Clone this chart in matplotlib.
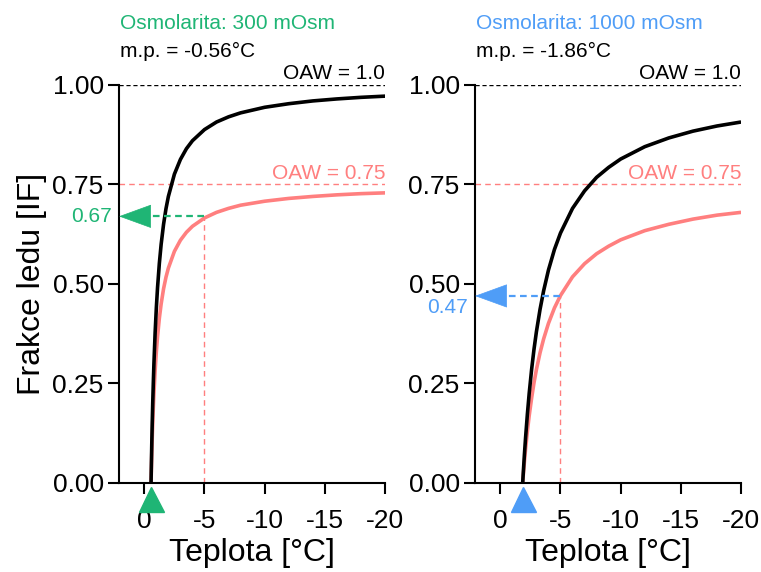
import matplotlib
matplotlib.use("Agg")
import matplotlib.pyplot as plt

plt.rcParams['font.family'] = ['Liberation Sans', 'DejaVu Sans']

# hodnoty (teplota je záporná, osa obrácená)
t_300 = [-0.56, -0.58, -0.62, -0.66, -0.70, -0.75, -0.80, -0.90, -1.0, -1.1, -1.25, -1.4, -1.6,
         -1.8, -2.0, -2.5, -3.0, -3.5, -4.0, -5.0, -6.0, -7.0, -8.0, -10, -12, -14, -16, -18, -20]
if_300_oaw1 = [0, 0.034, 0.097, 0.152, 0.200, 0.253, 0.300, 0.378, 0.440, 0.491, 0.552, 0.600, 0.650,
               0.689, 0.720, 0.776, 0.813, 0.840, 0.860, 0.888, 0.907, 0.920, 0.930, 0.944, 0.953,
               0.960, 0.965, 0.969, 0.972]
if_300_oaw075 = [0, 0.026, 0.073, 0.114, 0.150, 0.190, 0.225, 0.283, 0.330, 0.368, 0.414, 0.450, 0.488,
                 0.517, 0.540, 0.582, 0.610, 0.630, 0.645, 0.666, 0.680, 0.690, 0.698, 0.708, 0.715,
                 0.720, 0.724, 0.727, 0.729]

t_1000 = [-1.86, -1.9, -2.0, -2.1, -2.25, -2.4, -2.6, -2.8, -3.0, -3.3, -3.6, -4.0, -4.5, -5.0,
          -6.0, -7.0, -8.0, -9.0, -10, -12, -14, -16, -18, -20]
if_1000_oaw1 = [0, 0.021, 0.070, 0.114, 0.173, 0.225, 0.285, 0.336, 0.380, 0.436, 0.483, 0.535, 0.587,
                0.628, 0.690, 0.734, 0.768, 0.793, 0.814, 0.845, 0.867, 0.884, 0.897, 0.907]
if_1000_oaw075 = [0, 0.016, 0.052, 0.086, 0.130, 0.169, 0.213, 0.252, 0.285, 0.327, 0.362, 0.401, 0.440,
                  0.471, 0.518, 0.551, 0.576, 0.595, 0.611, 0.634, 0.650, 0.663, 0.673, 0.680]

panels = [
    dict(t=t_300, black=if_300_oaw1, pink=if_300_oaw075, mp=-0.56, read=0.67, dy=0,
         title='Osmolarita: 300 mOsm', mp_text='m.p. = -0.56°C', color='#1FB575'),
    dict(t=t_1000, black=if_1000_oaw1, pink=if_1000_oaw075, mp=-1.86, read=0.47, dy=-8,
         title='Osmolarita: 1000 mOsm', mp_text='m.p. = -1.86°C', color='#4F9DF7'),
]
t_read = -5
x_ticks = [0, -5, -10, -15, -20]
x_ticklabels = ['0', '-5', '-10', '-15', '-20']
y_ticks = [0, 0.25, 0.5, 0.75, 1.0]
y_ticklabels = ['0.00', '0.25', '0.50', '0.75', '1.00']

pink = '#FF7F7F'
x_left = 2.1

fig = plt.figure(figsize=(7.61, 5.72), dpi=100)
axes = [fig.add_axes([0.1564, 0.1556, 0.3496, 0.6958]),
        fig.add_axes([0.6242, 0.1556, 0.3496, 0.6958])]

for ax, p in zip(axes, panels):
    ax.set_xlim(x_left, -20)
    ax.set_ylim(0, 1)

    ax.axhline(1.0, color='black', lw=1, ls=(0, (3, 2)))
    ax.axhline(0.75, color=pink, lw=1, ls=(0, (4, 3)))
    ax.plot([t_read, t_read], [0, p['read']], color=pink, lw=1, ls=(0, (4, 3)))

    ax.plot(p['t'], p['pink'], color=pink, lw=2.6, solid_capstyle='butt')
    ax.plot(p['t'], p['black'], color='black', lw=2.6, solid_capstyle='butt')

    # odečet: čárkovaná čára + šipka k ose y
    ax.plot([t_read, x_left - 1.5], [p['read'], p['read']], color=p['color'], lw=1.6,
            ls=(0, (3, 2)))
    ax.annotate('', xy=(x_left, p['read']), xytext=(22, 0), textcoords='offset points',
                arrowprops=dict(arrowstyle='-|>,head_length=2.2,head_width=0.8',
                                mutation_scale=10, color=p['color'], lw=0.5,
                                shrinkA=0, shrinkB=0))
    ax.annotate('%.2f' % p['read'], xy=(x_left, p['read']), xytext=(-5, p['dy']),
                textcoords='offset points', ha='right', va='center',
                fontsize=15, color=p['color'], annotation_clip=False)

    ax.plot([p['mp']], [-0.04], marker='^', markersize=18, color=p['color'],
            clip_on=False, zorder=5)

    ax.text(-20, 1.005, 'OAW = 1.0', ha='right', va='bottom', fontsize=15)
    ax.text(-20, 0.755, 'OAW = 0.75', ha='right', va='bottom', fontsize=15, color=pink)

    ax.text(0.005, 1.155, p['title'], transform=ax.transAxes, ha='left', va='center',
            fontsize=15, color=p['color'])
    ax.text(0.005, 1.085, p['mp_text'], transform=ax.transAxes, ha='left', va='center',
            fontsize=15)

    ax.set_xticks(x_ticks)
    ax.set_xticklabels(x_ticklabels)
    ax.set_yticks(y_ticks)
    ax.set_yticklabels(y_ticklabels)
    ax.tick_params(labelsize=19, width=1.5, length=8, direction='out')
    ax.tick_params(axis='x', pad=11)
    ax.tick_params(axis='y', pad=3)
    ax.set_xlabel('Teplota [°C]', fontsize=23, labelpad=3)
    for s in ['top', 'right']:
        ax.spines[s].set_visible(False)
    for s in ['left', 'bottom']:
        ax.spines[s].set_linewidth(1.5)

axes[0].set_ylabel('Frakce ledu [IF]', fontsize=23, labelpad=4)

fig.savefig('out.png', dpi=100)
